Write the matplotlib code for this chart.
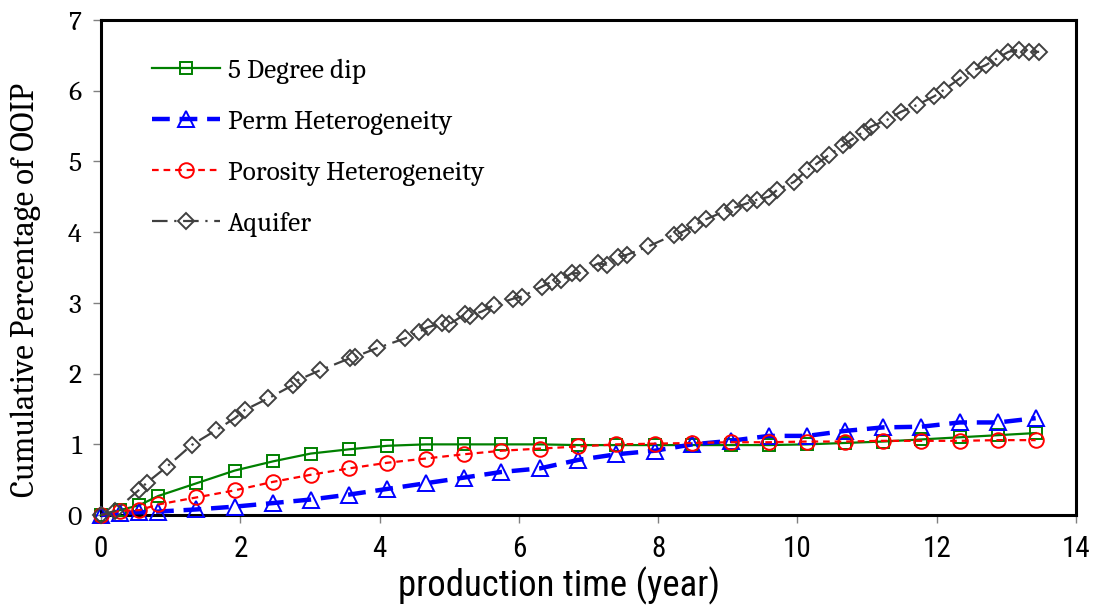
import matplotlib
matplotlib.use("Agg")
import matplotlib.pyplot as plt

# ---- data (years, % OOIP) ----
t_years = [0.0, 0.27, 0.55, 0.82, 1.37, 1.92, 2.47, 3.01, 3.56, 4.11, 4.66, 5.21,
           5.75, 6.30, 6.85, 7.40, 7.95, 8.49, 9.04, 9.59, 10.14, 10.68, 11.23,
           11.78, 12.33, 12.88, 13.42]
dip5 = [0.0, 0.07, 0.14, 0.27, 0.45, 0.63, 0.76, 0.87, 0.93, 0.98, 1.0, 1.0,
        1.0, 1.0, 0.99, 0.99, 0.99, 0.99, 0.99, 0.99, 1.0, 1.02, 1.04, 1.07,
        1.10, 1.13, 1.16]
perm = [0.0, 0.03, 0.04, 0.05, 0.08, 0.12, 0.17, 0.22, 0.29, 0.37, 0.45, 0.53,
        0.61, 0.66, 0.78, 0.86, 0.91, 1.0, 1.05, 1.12, 1.12, 1.19, 1.24, 1.25,
        1.31, 1.31, 1.37]
poro = [0.0, 0.06, 0.07, 0.15, 0.25, 0.35, 0.47, 0.57, 0.66, 0.74, 0.80, 0.86,
        0.91, 0.94, 0.97, 1.0, 1.01, 1.02, 1.03, 1.03, 1.04, 1.04, 1.05, 1.05,
        1.05, 1.06, 1.06]

aq_years = [0.0, 0.2, 0.55, 0.66, 0.94, 1.30, 1.65, 1.92, 2.07, 2.40, 2.76, 2.83,
            3.15, 3.58, 3.65, 3.96, 4.37, 4.56, 4.70, 4.89, 5.00, 5.23, 5.30,
            5.47, 5.64, 5.92, 6.04, 6.33, 6.47, 6.60, 6.76, 6.88, 7.14, 7.26,
            7.43, 7.55, 7.86, 8.22, 8.34, 8.53, 8.68, 8.94, 9.08, 9.28, 9.42,
            9.59, 9.71, 9.95, 10.14, 10.28, 10.45, 10.66, 10.76, 10.95, 11.05,
            11.29, 11.48, 11.72, 11.96, 12.10, 12.34, 12.53, 12.70, 12.87,
            13.03, 13.18, 13.32, 13.47]
aquifer = [0.0, 0.06, 0.36, 0.46, 0.68, 0.99, 1.20, 1.37, 1.49, 1.65, 1.84, 1.91,
           2.05, 2.22, 2.24, 2.36, 2.50, 2.59, 2.66, 2.71, 2.70, 2.84, 2.82,
           2.88, 2.97, 3.06, 3.09, 3.23, 3.30, 3.32, 3.42, 3.42, 3.56, 3.54,
           3.65, 3.68, 3.80, 3.96, 4.00, 4.10, 4.18, 4.29, 4.34, 4.41, 4.46,
           4.50, 4.60, 4.71, 4.88, 4.97, 5.09, 5.23, 5.30, 5.42, 5.49, 5.59,
           5.70, 5.80, 5.92, 6.01, 6.18, 6.29, 6.36, 6.46, 6.55, 6.58, 6.55,
           6.55]

labels = ["5 Degree dip", "Perm Heterogeneity", "Porosity Heterogeneity", "Aquifer"]
x_ticks = [0, 2, 4, 6, 8, 10, 12, 14]
y_ticks = [0, 1, 2, 3, 4, 5, 6, 7]

serif = ["Caladea", "DejaVu Serif"]
narrow = ["Roboto Condensed", "Liberation Sans", "DejaVu Sans"]

fig = plt.figure(figsize=(10.96, 6.06), dpi=100)
ax = fig.add_axes([0.0922, 0.150, 0.8896, 0.817])

ax.plot(t_years, dip5, color="#008000", lw=1.6, marker="s", ms=9, mfc="none",
        mec="#008000", mew=1.4, label=labels[0], clip_on=False, zorder=3)
ax.plot(t_years, perm, color="#0000FF", lw=3.2, ls=(0, (4, 2.2)), marker="^", ms=11,
        mfc="none", mec="#0000FF", mew=1.4, label=labels[1], clip_on=False, zorder=3)
ax.plot(t_years, poro, color="#FF0000", lw=1.6, ls=(0, (3, 2.2)), marker="o", ms=10.5,
        mfc="none", mec="#FF0000", mew=1.4, label=labels[2], clip_on=False, zorder=3)
ax.plot(aq_years, aquifer, color="#404040", lw=1.6, ls=(0, (7, 3, 1, 3)), marker="D",
        ms=8, mfc="none", mec="#404040", mew=1.4, label=labels[3], clip_on=False,
        zorder=3)

ax.set_xlim(0, 14)
ax.set_ylim(0, 7)
ax.set_xticks(x_ticks)
ax.set_yticks(y_ticks)
ax.set_xticklabels([str(v) for v in x_ticks], family=narrow, fontsize=21)
ax.set_yticklabels([str(v) for v in y_ticks], family=serif, fontsize=20)
ax.tick_params(axis="both", direction="out", length=6, width=1, color="#808080")
ax.tick_params(axis="x", pad=8)
ax.tick_params(axis="y", pad=8)

for sp in ax.spines.values():
    sp.set_linewidth(2.2)
    sp.set_color("black")

ax.set_xlabel("production time (year)", family=narrow, fontsize=26.5)
ax.xaxis.set_label_coords(0.47, -0.105)
ax.set_ylabel("Cumulative Percentage of OOIP", family=serif, fontsize=23.5)
ax.yaxis.set_label_coords(-0.062, 0.455)

leg = ax.legend(loc="upper left", bbox_to_anchor=(0.027, 0.972), frameon=False,
                prop={"family": serif, "size": 19.7}, handlelength=2.49,
                handletextpad=0.27, labelspacing=0.94, numpoints=1)

fig.savefig("out.png", dpi=100)
